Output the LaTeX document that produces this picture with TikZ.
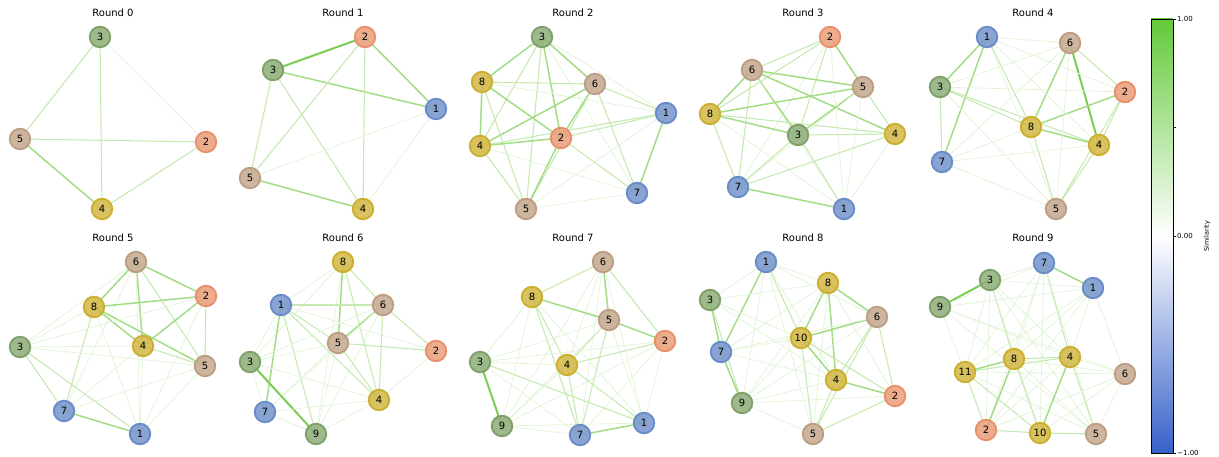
\documentclass[tikz,border=0pt]{standalone}
\usepackage{fontspec}
\setmainfont{DejaVu Sans}
\usetikzlibrary{backgrounds}
\definecolor{nblue}{HTML}{7C9ACD}\definecolor{nblueD}{HTML}{6A8BC9}
\definecolor{ngreen}{HTML}{94B280}\definecolor{ngreenD}{HTML}{7FA068}
\definecolor{norange}{HTML}{EBA382}\definecolor{norangeD}{HTML}{E8906A}
\definecolor{ntan}{HTML}{C9AD96}\definecolor{ntanD}{HTML}{BC9E84}
\definecolor{nyellow}{HTML}{D5BB4E}\definecolor{nyellowD}{HTML}{CCAE30}
\definecolor{edA}{HTML}{E3F4D9}\definecolor{edB}{HTML}{C6EAB2}
\definecolor{edC}{HTML}{A2DC85}\definecolor{edD}{HTML}{7ACD55}
\definecolor{cbgreen}{HTML}{63C93A}\definecolor{cbblue}{HTML}{3761C8}
\newcommand\myedges[2]{\foreach \a/\b/\w in {#2}{\draw[e\w] (#1\a.center) -- (#1\b.center);}}
\newcommand\mynodes[2]{\foreach \l/\x/\y in {#2}{\node[nd, c\l] (#1\l) at (\x,\y) {\l};}}
\begin{document}
\begin{tikzpicture}[x=1pt,y=-1pt,
  nd/.style={circle, minimum size=20.5pt, inner sep=0pt, line width=1.9pt, fill opacity=0.9, text opacity=1, font=\fontsize{10}{12}\selectfont},
  cB/.style={fill=nblue, draw=nblueD}, cG/.style={fill=ngreen, draw=ngreenD},
  cO/.style={fill=norange, draw=norangeD}, cT/.style={fill=ntan, draw=ntanD},
  cY/.style={fill=nyellow, draw=nyellowD},
  c1/.style={cB}, c7/.style={cB}, c3/.style={cG}, c9/.style={cG}, c2/.style={cO},
  c5/.style={cT}, c6/.style={cT}, c4/.style={cY}, c8/.style={cY}, c10/.style={cY}, c11/.style={cY},
  eA/.style={draw=edA, line width=0.8pt}, eB/.style={draw=edB, line width=1.1pt},
  eC/.style={draw=edC, line width=1.5pt}, eD/.style={draw=edD, line width=2pt},
  ttl/.style={font=\fontsize{10}{12}\selectfont},
  tick/.style={font=\fontsize{7}{8}\selectfont, anchor=west, inner sep=0pt}]
\useasboundingbox (0,0) rectangle (1219,457);
% titles
\foreach \k in {0,...,4}{\node[ttl] (t\k) at (113+230*\k,13) {Round \k};}
\foreach \k in {5,...,9}{\node[ttl] (t\k) at (113+230*\k-1150,238) {Round \k};}
% nodes
\mynodes{pa}{3/100/37, 5/20/139, 2/206/142, 4/102/209}
\mynodes{pb}{2/365/37, 3/273/70, 1/436/109, 5/250/178, 4/363/209}
\mynodes{pc}{3/542/37, 8/482/82, 6/595/84, 1/666/113, 2/561/138, 4/480/146, 7/637/193, 5/526/209}
\mynodes{pd}{2/830/37, 6/752/70, 5/863/87, 8/710/114, 3/798/135, 4/895/134, 7/738/187, 1/844/209}
\mynodes{pe}{1/987/37, 6/1070/43, 3/940/87, 2/1125/92, 8/1031/127, 4/1099/145, 7/942/162, 5/1056/209}
\mynodes{pf}{6/136/262, 2/206/296, 8/94/307, 3/20/347, 4/143/346, 5/205/366, 7/64/411, 1/140/434}
\mynodes{pg}{8/343/262, 1/281/305, 6/383/305, 5/338/343, 2/436/351, 3/250/362, 4/379/400, 7/265/412, 9/316/434}
\mynodes{ph}{6/603/262, 8/532/297, 5/609/320, 2/665/341, 3/480/362, 4/567/365, 9/502/426, 1/644/423, 7/580/435}
\mynodes{pi}{1/766/262, 8/828/283, 3/710/300, 6/877/317, 10/801/338, 7/721/352, 4/836/380, 2/895/396, 9/742/403, 5/813/434}
\mynodes{pj}{7/1044/263, 3/990/280, 1/1093/288, 9/940/307, 8/1014/359, 4/1070/357, 11/965/372, 6/1125/374, 2/986/430, 10/1040/433, 5/1096/434}
% edges
\begin{pgfonlayer}{background}
\myedges{pa}{3/5/B, 3/4/B, 3/2/A, 5/2/B, 5/4/C, 4/2/B}
\myedges{pb}{3/2/D, 2/1/C, 3/1/C, 5/4/C, 2/5/B, 2/4/B, 3/5/B, 3/4/B, 1/5/A, 1/4/A}
\myedges{pc}{3/8/C, 3/6/C, 3/2/C, 3/4/B, 3/5/B, 3/7/A, 3/1/A, 8/6/B, 8/2/C, 8/4/C, 8/1/A, 8/5/B, 6/2/C, 6/4/C, 6/1/B, 6/7/B, 6/5/B, 4/2/C, 4/1/B, 4/7/A, 4/5/B, 2/1/B, 2/7/B, 2/5/C, 1/7/C, 1/5/A, 5/7/A}
\myedges{pd}{2/6/B, 2/8/B, 2/5/C, 2/3/B, 2/7/A, 2/1/A, 6/5/C, 6/8/C, 6/3/C, 6/4/C, 6/7/B, 6/1/A, 5/8/C, 5/3/C, 5/4/B, 5/7/A, 5/1/A, 8/3/C, 8/4/B, 8/7/B, 8/1/A, 3/4/B, 3/7/B, 3/1/B, 4/7/B, 4/1/A, 7/1/C}
\myedges{pe}{1/3/C, 1/7/C, 3/7/B, 6/4/D, 6/8/C, 6/2/B, 8/2/C, 8/4/C, 8/5/B, 4/5/B, 2/5/B, 2/4/B, 1/6/A, 1/2/A, 1/8/B, 1/4/A, 1/5/A, 3/6/A, 3/2/A, 3/8/B, 3/4/B, 3/5/A, 7/6/A, 7/8/A, 7/4/A, 7/5/A, 6/5/A}
\myedges{pf}{6/8/C, 6/2/C, 6/4/C, 6/5/B, 6/3/A, 6/7/A, 6/1/A, 8/2/C, 8/4/C, 8/5/C, 8/3/A, 8/7/B, 8/1/A, 2/4/C, 2/5/B, 2/3/A, 2/1/A, 3/4/A, 3/5/A, 3/7/B, 3/1/B, 4/5/B, 4/7/A, 4/1/A, 5/7/A, 5/1/A, 7/1/C}
\myedges{pg}{8/5/C, 8/6/B, 8/4/B, 8/1/A, 8/3/A, 8/9/A, 1/6/B, 1/5/B, 1/7/C, 1/4/B, 1/9/B, 1/3/A, 1/2/A, 6/5/C, 6/4/B, 6/2/B, 6/3/A, 6/9/A, 6/7/A, 5/2/B, 5/4/B, 5/3/A, 5/7/A, 5/9/A, 3/9/D, 3/4/A, 3/7/A, 4/2/A, 4/9/A, 4/7/A, 7/9/A}
\myedges{ph}{6/8/B, 6/5/C, 6/2/B, 6/4/A, 6/7/A, 6/1/A, 6/9/A, 8/5/C, 8/4/B, 8/7/B, 8/1/A, 8/3/A, 8/9/A, 5/2/C, 5/4/B, 5/3/A, 5/7/B, 5/1/A, 5/9/A, 2/4/B, 2/3/A, 2/9/A, 2/7/A, 2/1/A, 3/4/A, 3/9/D, 3/1/B, 3/7/A, 4/7/B, 4/1/B, 4/9/A, 9/7/A, 9/1/A, 7/1/C}
\myedges{pi}{1/7/C, 1/3/A, 1/8/A, 1/10/B, 1/6/A, 1/4/A, 1/9/A, 1/5/A, 3/7/C, 3/9/B, 3/8/A, 3/10/A, 3/4/A, 8/10/C, 8/6/C, 8/4/C, 8/7/A, 8/9/A, 8/5/A, 8/2/A, 6/10/C, 6/4/B, 6/2/B, 6/5/B, 6/9/A, 6/7/A, 10/4/C, 10/7/A, 10/9/A, 10/5/B, 10/2/B, 7/4/A, 7/9/C, 4/2/C, 4/5/B, 4/9/A, 9/2/A, 9/5/A, 5/2/B}
\myedges{pj}{3/9/D, 7/1/C, 7/3/A, 7/9/A, 7/11/A, 7/8/A, 7/4/B, 7/10/A, 7/2/A, 7/5/A, 1/3/A, 1/9/A, 1/11/A, 1/8/A, 1/4/A, 1/6/A, 1/2/A, 3/11/A, 3/8/B, 3/4/A, 3/2/A, 3/10/A, 3/5/A, 9/11/A, 9/4/A, 9/5/A, 9/6/A, 11/8/C, 11/4/B, 11/6/A, 11/2/B, 11/10/B, 11/5/A, 8/4/B, 8/2/C, 8/10/B, 8/5/A, 8/6/A, 4/10/C, 4/5/B, 4/2/A, 4/6/A, 6/2/A, 6/10/A, 6/5/A, 2/10/B, 10/5/B}
\end{pgfonlayer}
% colorbar
\shade[top color=cbgreen, bottom color=white] (1151,19) rectangle (1173,236);
\shade[top color=white, bottom color=cbblue] (1151,236) rectangle (1173,453);
\draw[line width=0.8pt] (1151,19) rectangle (1173,453);
\foreach \yy in {19,127.5,236,453}{\draw[line width=0.8pt] (1173,\yy) -- (1175.5,\yy);}
\node[tick] (l1) at (1177,19) {1.00};
\node[tick] (l0) at (1177,236) {0.00};
\node[tick] (lm) at (1177,453) {−1.00};
\node[rotate=90, font=\fontsize{6.5}{8}\selectfont] (sim) at (1207,236) {Similarity};
\end{tikzpicture}
\end{document}
